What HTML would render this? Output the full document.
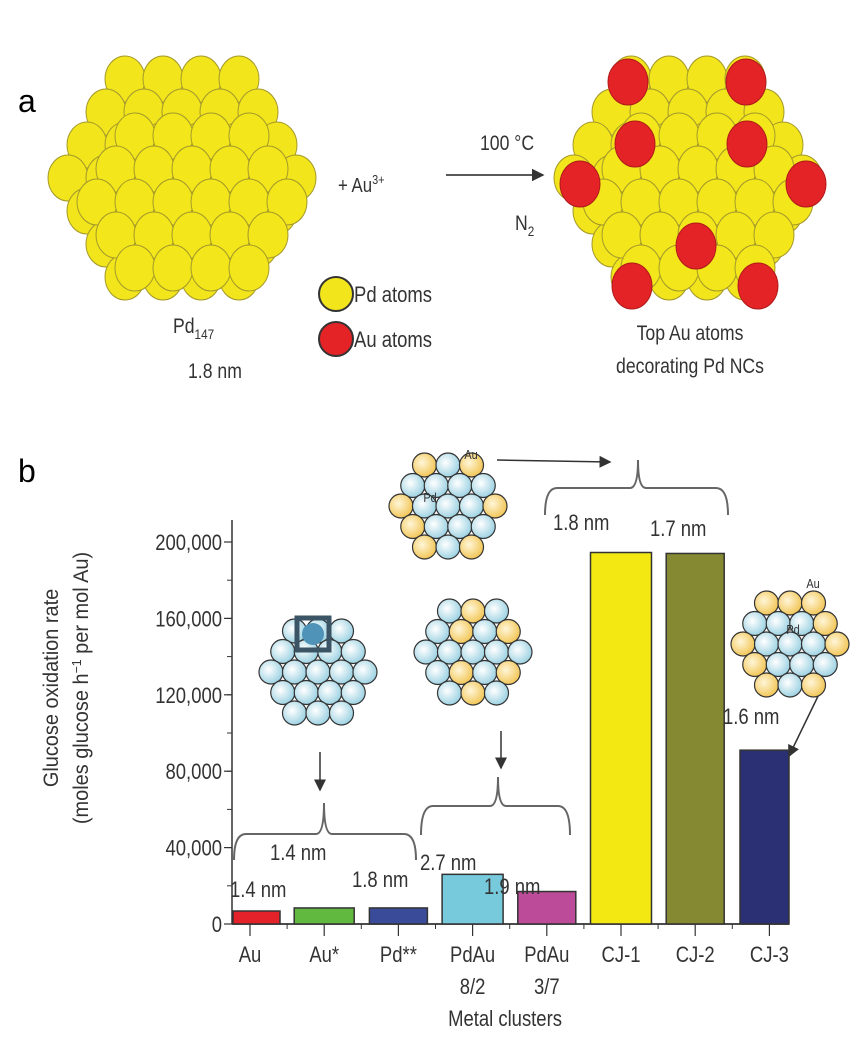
<!DOCTYPE html>
<html><head><meta charset="utf-8"><style>
html,body{margin:0;padding:0;background:#fff;}
svg{display:block;}
text{font-family:"Liberation Sans Narrow","Liberation Sans",sans-serif;fill:#333;}
</style></head><body>
<svg id="fig" width="866" height="1045" viewBox="0 0 866 1045" xmlns="http://www.w3.org/2000/svg">
<defs>
<radialGradient id="gb" cx="0.4" cy="0.4" r="0.6"><stop offset="0" stop-color="#ffffff"/><stop offset="1" stop-color="#9fd3e3"/></radialGradient>
<radialGradient id="gy" cx="0.4" cy="0.4" r="0.6"><stop offset="0" stop-color="#fff6d8"/><stop offset="1" stop-color="#f2c75a"/></radialGradient>
<marker id="ah" markerWidth="8" markerHeight="8" refX="7" refY="4" orient="auto"><path d="M0,0 L8,4 L0,8 z" fill="#333"/></marker>
</defs>
<g id="panelA"></g>
<g id="panelB"></g>
</svg>
<script>
const categories = ["Au","Au*","Pd**","PdAu 8/2","PdAu 3/7","CJ-1","CJ-2","CJ-3"];
const rates = [6800, 8400, 8400, 26000, 17000, 194500, 194000, 91000];
const barColors = ["#e42229","#62b93f","#3a4b9a","#77c9dc","#bc4b9a","#f3e812","#858932","#2b2f74"];
const yTicks = [0, 40000, 80000, 120000, 160000, 200000];
const yTickLabels = ["0","40,000","80,000","120,000","160,000","200,000"];

const NS="http://www.w3.org/2000/svg";
function mk(tag, attrs, parent){const e=document.createElementNS(NS,tag);for(const k in attrs)e.setAttribute(k,attrs[k]);parent.appendChild(e);return e;}
const A=document.getElementById('panelA'), B=document.getElementById('panelB');
const SX=0.84;

// ---------- Panel a ----------
function bigCluster(cx, cy, reds, name){
  const g=mk('g',{},A);
  
  
  const r=20, dx=38, dy=33;
  const rows=[4,5,6,7,6,5,4];
  rows.forEach((n,i)=>{for(let j=0;j<n;j++){
    const x=cx+(j-(n-1)/2)*dx, y=cy+(i-3)*dy;
    mk('ellipse',{cx:x-8,cy:y-8,rx:r,ry:r+3,fill:'#f2e51c',stroke:'#a59a2a','stroke-width':1},g);
  }});
  const rows2=[4,5,6,5,4];
  rows2.forEach((n,i)=>{for(let j=0;j<n;j++){
    const x=cx+(j-(n-1)/2)*dx, y=cy+(i-2)*dy+16;
    mk('ellipse',{cx:x+2,cy:y,rx:r,ry:r+3,fill:'#f3e61a',stroke:'#a59a2a','stroke-width':1},g);
  }});
  reds.forEach(p=>{
    const c=mk('ellipse',{cx:p[0],cy:p[1],rx:r,ry:r+3,fill:'#e42326',stroke:'#b01a1a','stroke-width':1},g);
    
    
  });
}
bigCluster(190,186,[],'pd147-cluster');
bigCluster(696,186,[[628,82],[746,82],[635,144],[747,144],[580,184],[806,184],[696,246],[632,286],[758,286]],'au-decorated-cluster');

function txt(parent,x,y,s,size,name,anchor,extra,noscale){
  const t=mk('text',Object.assign({x:0,y:0,'font-size':size,'text-anchor':anchor||'start',transform:`translate(${x},${y}) scale(${noscale?1:SX},1)`},extra||{}),parent);
  t.textContent=s;
  
  
  return t;
}
txt(A,18,112,'a',32,'panel-a-label','start',{style:'font-family:"Liberation Sans",sans-serif;fill:#000'},true);
txt(B,18,482,'b',32,'panel-b-label','start',{style:'font-family:"Liberation Sans",sans-serif;fill:#000'},true);
const au=txt(A,338,192,'+  Au',20,'au3-reagent');
const sup=mk('tspan',{dy:-8,'font-size':13},au); sup.textContent='3+';
txt(A,507,150,'100 °C',21,'temperature-label','middle');
mk('line',{x1:446,y1:175,x2:543,y2:175,stroke:'#222','stroke-width':1.6,'marker-end':'url(#ah)'},A);
const n2=txt(A,515,230,'N',21,'n2-label');
const s2=mk('tspan',{dy:6,'font-size':14},n2); s2.textContent='2';
mk('circle',{cx:336,cy:294,r:17,fill:'#f2e51c',stroke:'#333','stroke-width':2},A);
mk('circle',{cx:336,cy:339,r:17,fill:'#e42326',stroke:'#333','stroke-width':2},A);
txt(A,354,302,'Pd atoms',22,'legend-pd-atoms');
txt(A,354,347,'Au atoms',22,'legend-au-atoms');
const pd=txt(A,173,333,'Pd',21,'pd147-label');
const s3=mk('tspan',{dy:6,'font-size':14},pd); s3.textContent='147';
txt(A,188,378,'1.8 nm',21,'pd147-size');
txt(A,690,340,'Top Au atoms',21,'product-label-1','middle');
txt(A,690,373,'decorating Pd NCs',21,'product-label-2','middle');

// ---------- Panel b chart ----------
const x0=232, yZero=924, yTop=542, yMax=200000, step=74.2, first=250;
const ys=v=>yZero-(v/yMax)*(yZero-yTop);
const xs=i=>first+i*step;
mk('line',{x1:x0,y1:520,x2:x0,y2:yZero,stroke:'#333','stroke-width':1.5},B);
mk('line',{x1:x0,y1:yZero,x2:789,y2:yZero,stroke:'#333','stroke-width':1.8},B);
for(let v=0;v<=200000;v+=20000){mk('line',{x1:x0-5,y1:ys(v),x2:x0,y2:ys(v),stroke:'#333','stroke-width':1},B);}
yTicks.forEach((v,i)=>{
  mk('line',{x1:x0-8,y1:ys(v),x2:x0,y2:ys(v),stroke:'#333','stroke-width':1.2},B);
  txt(B,222,ys(v)+8,yTickLabels[i],22,'y-tick-label','end');
});
const widths=[47,60,58,61,58,61,58,49];
categories.forEach((c,i)=>{
  const cx=xs(i), w=widths[i];
  let left=cx-w/2; if(i===0) left=x0+1; if(i===7) left=789-w;
  const r=mk('rect',{x:left,y:ys(rates[i]),width:w,height:yZero-ys(rates[i]),fill:barColors[i],stroke:'#333','stroke-width':1.5},B);
  
  
  mk('line',{x1:cx,y1:yZero,x2:cx,y2:yZero+12,stroke:'#333','stroke-width':1.2},B);
  if(i<7) mk('line',{x1:cx+step/2,y1:yZero,x2:cx+step/2,y2:yZero+5,stroke:'#333','stroke-width':1},B);
  const parts=c.split(' ');
  txt(B,cx,962,parts[0],22,'x-tick-label','middle');
  if(parts[1]) txt(B,cx,994,parts[1],22,'x-tick-label-line2','middle');
});
txt(B,505,1026,'Metal clusters',22,'x-axis-title','middle');
const yt=mk('text',{transform:'translate(58,688) rotate(-90) scale(0.95,1)','text-anchor':'middle','font-size':21},B);


yt.textContent='Glucose oxidation rate';
const yt2=mk('text',{transform:'translate(88,688) rotate(-90) scale(0.95,1)','text-anchor':'middle','font-size':21},B);


yt2.innerHTML='(moles glucose h<tspan dy="-7" font-size="13">−1</tspan><tspan dy="7"> per mol Au)</tspan>';

// size labels
[[230,897,'1.4 nm'],[270,860,'1.4 nm'],[352,887,'1.8 nm'],[420,870,'2.7 nm'],[484,894,'1.9 nm'],[553,530,'1.8 nm'],[650,536,'1.7 nm'],[723,724,'1.6 nm']].forEach(l=>txt(B,l[0],l[1],l[2],22,'size-label'));

// braces
function brace(x1,x2,xm,yh,ytip,yend,name){
  const p=mk('path',{d:`M${x1},${yend} Q${x1},${yh} ${x1+12},${yh} L${xm-8},${yh} Q${xm},${yh} ${xm},${ytip} Q${xm},${yh} ${xm+8},${yh} L${x2-12},${yh} Q${x2},${yh} ${x2},${yend}`,fill:'none',stroke:'#666','stroke-width':2},B);
  
  
}
brace(234,416,324,834,803,860,'brace-au-group');
brace(421,570,498,806,777,835,'brace-pdau-group');
brace(545,728,638,488,460,515,'brace-cj-group');
mk('line',{x1:320,y1:752,x2:320,y2:790,stroke:'#333','stroke-width':1.5,'marker-end':'url(#ah)'},B);
mk('line',{x1:501,y1:731,x2:501,y2:768,stroke:'#333','stroke-width':1.5,'marker-end':'url(#ah)'},B);
mk('line',{x1:497,y1:460,x2:610,y2:462,stroke:'#333','stroke-width':1.5,'marker-end':'url(#ah)'},B);
mk('line',{x1:822,y1:688,x2:789,y2:756,stroke:'#333','stroke-width':1.5,'marker-end':'url(#ah)'},B);

// small clusters
function small(cx,cy,yellow,name,labels){
  const g=mk('g',{},B);
  
  
  const rows=[3,4,5,4,3], dx=23.5, dy=20.5, r=12;
  let k=0;
  rows.forEach((n,i)=>{for(let j=0;j<n;j++){
    const x=cx+(j-(n-1)/2)*dx, y=cy+(i-2)*dy;
    mk('circle',{cx:x,cy:y,r:r,fill:yellow.includes(k)?'url(#gy)':'url(#gb)',stroke:'#333','stroke-width':1.2},g);
    k++;
  }});
  (labels||[]).forEach(l=>txt(g,l[0],l[1],l[2],13,'atom-label','middle'));
  return g;
}
small(448,506,[0,2,7,11,12,16,18],'inset-cj-1-2',[[471,459,'Au'],[430,502,'Pd']]);
const g2=small(318,672,[],'inset-au-cluster');
mk('rect',{x:297,y:618,width:32,height:32,fill:'none',stroke:'#3c5566','stroke-width':5},g2);
mk('circle',{cx:313,cy:634,r:11,fill:'#4f93b8'},g2);
small(473,652,[1,4,6,13,15,17],'inset-pdau-cluster');
small(790,644,[0,1,2,6,7,11,12,16,18],'inset-cj-3',[[813,588,'Au'],[793,634,'Pd']]);
</script>
</body></html>
